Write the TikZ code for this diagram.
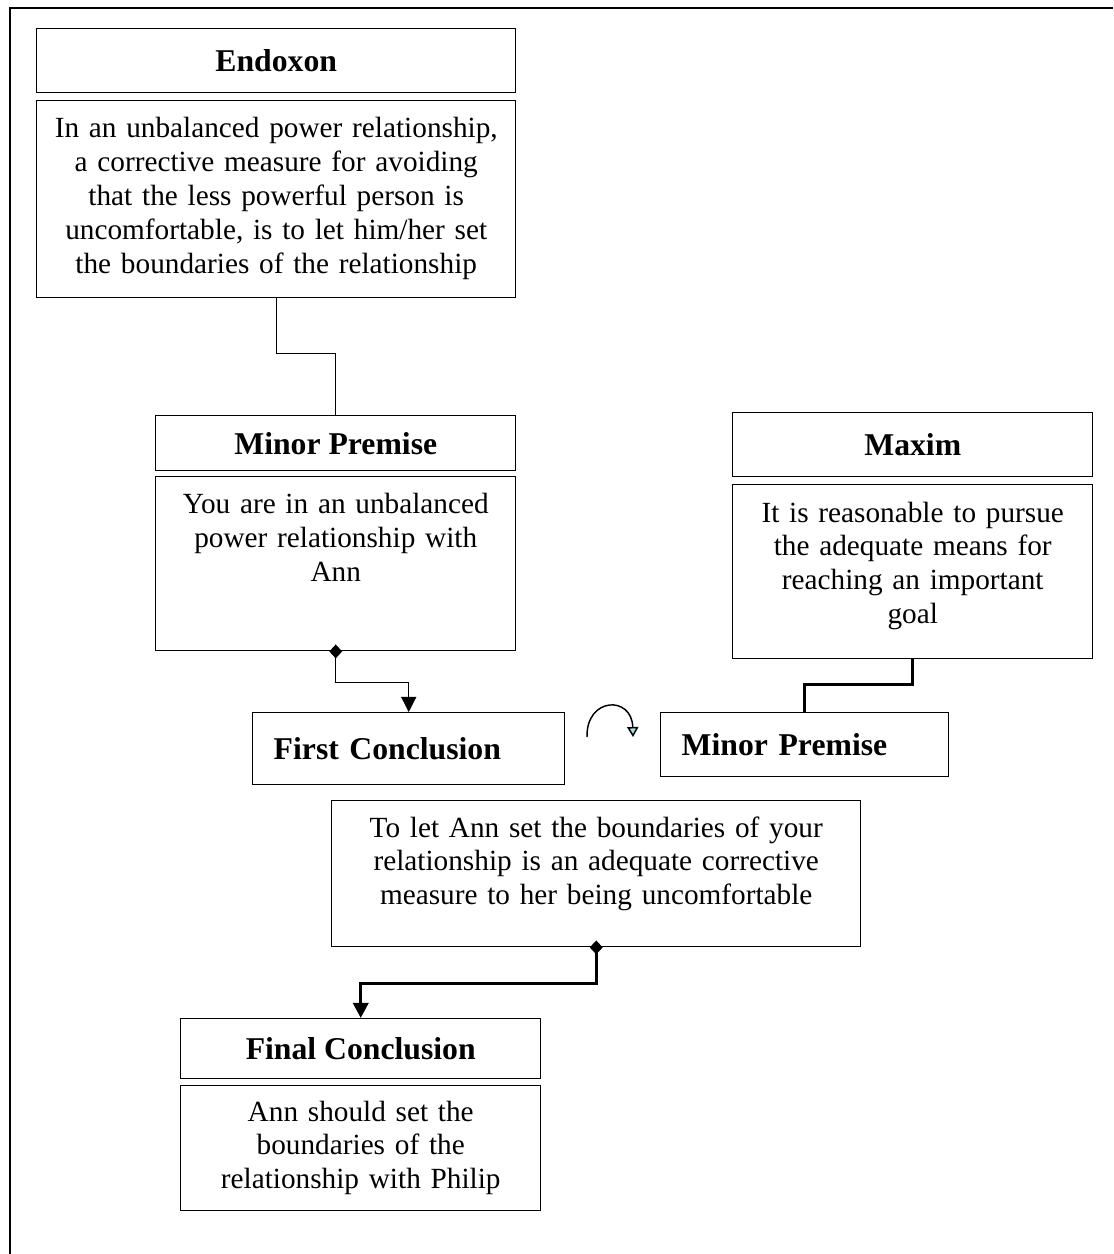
\documentclass[tikz,border=0pt]{standalone}
\usepackage{fontspec}
\setmainfont{Liberation Serif}
\usetikzlibrary{arrows.meta,calc}
% one drawing unit: a pixel-sized step, y growing downward
\def\pxl{0.41pt}
\definecolor{tipfill}{RGB}{170,222,232}
\begin{document}
\begin{tikzpicture}[x=0.41pt,y=-0.41pt,
  box/.style={draw, line width=0.6pt, rectangle, inner sep=0pt, anchor=north west},
  titlebox/.style={box, font=\fontsize{13}{15}\selectfont\bfseries},
  lefttitle/.style={titlebox, align=left, inner xsep=21*\pxl},
  bodytext/.style={inner sep=0pt, anchor=base, align=center, font=\fontsize{12}{13.9}\selectfont},
  thinlink/.style={line width=0.5pt},
  thicklink/.style={line width=1.4pt},
  dtip/.tip={Diamond[length=5.7pt,width=5.3pt]},
  ttip/.tip={Triangle[length=6.2pt,width=6.2pt]},
  frame/.style={line width=0.7pt}
]
\fill[white] (0,0) rectangle (1113,1254);
\useasboundingbox (0,0) rectangle (1113,1254);

% outer frame (runs off the right and bottom edges)
\draw[frame] (10,1254) -- (10,8) -- (1113,8);

% Endoxon
\node[titlebox, minimum width=479*\pxl, minimum height=64*\pxl] (endT) at (36,28) {Endoxon};
\node[box, minimum width=479*\pxl, minimum height=197*\pxl] (endB) at (36,100) {};
\node[bodytext, text width=470*\pxl] (endTx) at ($(endB.north)+(0,38)$)
  {In an unbalanced power relationship,\\ a corrective measure for avoiding\\ that the less powerful person is\\ uncomfortable, is to let him/her set\\ the boundaries of the relationship};

% Minor premise (left)
\node[titlebox, minimum width=360*\pxl, minimum height=55*\pxl] (minT) at (155,415) {Minor Premise};
\node[box, minimum width=360*\pxl, minimum height=174*\pxl] (minB) at (155,476) {};
\node[bodytext, text width=350*\pxl] (minTx) at ($(minB.north)+(0,38)$)
  {You are in an unbalanced\\ power relationship with\\ Ann};

% Maxim
\node[titlebox, minimum width=360*\pxl, minimum height=64*\pxl] (maxT) at (732,412) {Maxim};
\node[box, minimum width=360*\pxl, minimum height=174*\pxl] (maxB) at (732,484) {};
\node[bodytext, text width=350*\pxl] (maxTx) at ($(maxB.north)+(0,38)$)
  {It is reasonable to pursue\\ the adequate means for\\ reaching an important\\ goal};

% First conclusion and second minor premise
\node[lefttitle, text width=270*\pxl, minimum height=72*\pxl] (first) at (252,712) {First Conclusion};
\node[lefttitle, text width=246*\pxl, minimum height=64*\pxl] (min2) at (660,712) {Minor Premise};

% Adequate corrective measure
\node[box, minimum width=529*\pxl, minimum height=146*\pxl] (adeq) at (331,800) {};
\node[bodytext, text width=520*\pxl] (adeqTx) at ($(adeq.north)+(0,37)$)
  {To let Ann set the boundaries of your\\ relationship is an adequate corrective\\ measure to her being uncomfortable};

% Final conclusion
\node[titlebox, minimum width=360*\pxl, minimum height=60*\pxl] (finT) at (180,1018) {Final Conclusion};
\node[box, minimum width=360*\pxl, minimum height=125*\pxl] (finB) at (180,1085) {};
\node[bodytext, text width=350*\pxl] (finTx) at ($(finB.north)+(0,36)$)
  {Ann should set the\\ boundaries of the\\ relationship with Philip};

% connectors
\draw[thinlink] (endB.south) -- ++(0,55) -| (minT.north);
\draw[thinlink, dtip-ttip] ($(minB.south)+(0,-7)$) -- ++(0,38) -| (first.north);
\draw[thicklink] (maxB.south) -- ++(0,25) -| (min2.north);
\draw[thicklink, dtip-ttip] ($(adeq.south)+(0,-7)$) -- ++(0,43) -| (finT.north);

% turning arrow between the two middle boxes
\coordinate (turnA) at (587,737);
\coordinate (turnB) at (633,737);
\draw[line width=0.6pt, -{Triangle[length=4.1pt,width=4.6pt,fill=tipfill]}]
  (turnA) .. controls (586,697) and (632,695) .. (turnB);
\end{tikzpicture}
\end{document}
